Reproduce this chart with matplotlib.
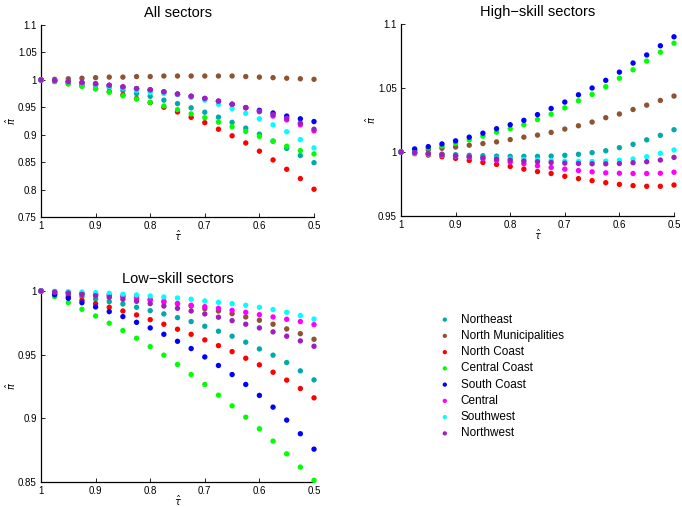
import numpy as np
import matplotlib
matplotlib.use("Agg")
import matplotlib.pyplot as plt

plt.rcParams["font.family"] = ["Liberation Sans", "DejaVu Sans"]
plt.rcParams["mathtext.fontset"] = "dejavusans"

# trade cost index, 1 -> 0.5
tau = np.linspace(1.0, 0.5, 21)

regions = ["Northeast", "North Municipalities", "North Coast", "Central Coast",
           "South Coast", "Central", "Southwest", "Northwest"]
colors = ["#00AAAA", "#8C5433", "#FF0000", "#00FF00",
          "#0000FF", "#FF00FF", "#00FFFF", "#A01EBE"]

# All sectors
all_ne = [1, 0.998, 0.996, 0.993, 0.990, 0.9866, 0.9805, 0.975, 0.970, 0.963, 0.9567,
          0.949, 0.941, 0.932, 0.9226, 0.912, 0.901, 0.8884, 0.875, 0.862, 0.849]
all_nm = [1, 1.001, 1.002, 1.003, 1.004, 1.005, 1.005, 1.006, 1.006, 1.007, 1.007,
          1.007, 1.007, 1.007, 1.007, 1.006, 1.005, 1.004, 1.003, 1.002, 1.001]
all_nc = [1, 0.997, 0.993, 0.989, 0.984, 0.9787, 0.9726, 0.966, 0.9585, 0.950, 0.9415,
          0.9317, 0.922, 0.910, 0.898, 0.885, 0.870, 0.854, 0.837, 0.820, 0.8006]
all_cc = [1, 0.997, 0.9927, 0.988, 0.9835, 0.9774, 0.971, 0.965, 0.959, 0.9524, 0.9457,
          0.938, 0.931, 0.923, 0.9146, 0.906, 0.897, 0.888, 0.879, 0.871, 0.865]
all_sc = [1, 0.999, 0.997, 0.995, 0.9927, 0.990, 0.987, 0.984, 0.9817, 0.978, 0.974,
          0.970, 0.966, 0.961, 0.9555, 0.9494, 0.9445, 0.9396, 0.934, 0.929, 0.924]
all_ce = [1, 0.999, 0.997, 0.995, 0.9927, 0.990, 0.987, 0.984, 0.9817, 0.978, 0.974,
          0.970, 0.966, 0.961, 0.9555, 0.949, 0.942, 0.934, 0.927, 0.918, 0.907]
all_sw = [1, 0.999, 0.997, 0.994, 0.991, 0.988, 0.985, 0.981, 0.977, 0.975, 0.973,
          0.968, 0.963, 0.9555, 0.9476, 0.939, 0.929, 0.918, 0.9055, 0.891, 0.876]
all_nw = [1, 0.999, 0.997, 0.995, 0.9927, 0.990, 0.987, 0.984, 0.9817, 0.978, 0.974,
          0.970, 0.966, 0.961, 0.9555, 0.9494, 0.943, 0.9366, 0.930, 0.921, 0.910]

# High-skill sectors
hi_ne = [1, 0.9995, 0.9989, 0.9984, 0.9979, 0.9974, 0.9971, 0.9968, 0.9966, 0.9966, 0.9966,
         0.9968, 0.9974, 0.9982, 0.9995, 1.001, 1.0034, 1.006, 1.0095, 1.013, 1.0174]
hi_nm = [1, 1.0008, 1.0018, 1.0029, 1.0039, 1.0053, 1.0066, 1.0079, 1.0097, 1.0116, 1.0132,
         1.0153, 1.0179, 1.0205, 1.0234, 1.0268, 1.0297, 1.0332, 1.0366, 1.0403, 1.0437]
hi_nc = [1, 0.9987, 0.9976, 0.9963, 0.995, 0.9934, 0.9918, 0.9903, 0.9887, 0.9866, 0.9847,
         0.9832, 0.981, 0.9792, 0.9776, 0.976, 0.9747, 0.9737, 0.9732, 0.9732, 0.9742]
hi_cc = [1, 1.0016, 1.0032, 1.0047, 1.0068, 1.0095, 1.0124, 1.0155, 1.0182, 1.0213, 1.0253,
         1.0295, 1.0345, 1.040, 1.045, 1.051, 1.0576, 1.0642, 1.071, 1.078, 1.085]
hi_sc = [1, 1.0024, 1.0042, 1.0063, 1.0087, 1.0116, 1.0147, 1.0182, 1.0213, 1.0247, 1.0292,
         1.034, 1.039, 1.0447, 1.050, 1.056, 1.0624, 1.0695, 1.0758, 1.083, 1.090]
hi_ce = [1, 0.9992, 0.9987, 0.9979, 0.9968, 0.9958, 0.9947, 0.9934, 0.9921, 0.9908, 0.9892,
         0.9879, 0.9866, 0.9855, 0.9845, 0.9837, 0.9834, 0.9832, 0.9832, 0.9834, 0.9842]
hi_sw = [1, 0.9992, 0.9984, 0.9976, 0.997, 0.9963, 0.9957, 0.9951, 0.9946, 0.9941, 0.9937,
         0.9933, 0.9928, 0.9926, 0.9926, 0.9929, 0.9935, 0.9945, 0.9963, 0.999, 1.0016]
hi_nw = [1, 0.9995, 0.9987, 0.9979, 0.9971, 0.9963, 0.9955, 0.9945, 0.9937, 0.9929, 0.9924,
         0.9918, 0.9913, 0.9910, 0.9908, 0.9908, 0.9910, 0.9916, 0.9924, 0.9937, 0.9958]

# Low-skill sectors
lo_ne = [1, 0.9987, 0.9971, 0.9956, 0.9937, 0.9916, 0.9898, 0.9872, 0.9846, 0.982, 0.9791,
         0.976, 0.9723, 0.9684, 0.9645, 0.9598, 0.9545, 0.9496, 0.9438, 0.9373, 0.9302]
lo_nm = [1, 0.9995, 0.9987, 0.9982, 0.9979, 0.9971, 0.9961, 0.995, 0.9935, 0.9919, 0.9901,
         0.9882, 0.9861, 0.9843, 0.9822, 0.9796, 0.977, 0.9739, 0.9702, 0.9665, 0.9621]
lo_nc = [1, 0.9976, 0.9953, 0.9927, 0.9901, 0.9872, 0.9843, 0.9812, 0.9775, 0.9739, 0.970,
         0.966, 0.9616, 0.9571, 0.9524, 0.9472, 0.942, 0.9362, 0.930, 0.9234, 0.9161]
lo_cc = [1, 0.9956, 0.9909, 0.9856, 0.9804, 0.9747, 0.9689, 0.9629, 0.9563, 0.9496, 0.9423,
         0.9344, 0.9266, 0.9182, 0.9098, 0.9009, 0.8918, 0.8821, 0.8721, 0.8617, 0.8513]
lo_sc = [1, 0.9971, 0.9943, 0.9908, 0.9875, 0.9838, 0.9799, 0.9754, 0.971, 0.966, 0.9605,
         0.9548, 0.9482, 0.9415, 0.9344, 0.9266, 0.918, 0.9088, 0.8986, 0.8879, 0.8758]
lo_ce = [1, 0.9992, 0.9987, 0.9979, 0.9971, 0.9963, 0.9953, 0.994, 0.9927, 0.9914, 0.9901,
         0.9888, 0.9877, 0.9864, 0.9848, 0.9833, 0.9814, 0.9796, 0.9778, 0.976, 0.9736]
lo_sw = [1, 0.9997, 0.9995, 0.9992, 0.9987, 0.9982, 0.9974, 0.9969, 0.9961, 0.9953, 0.9945,
         0.9935, 0.9922, 0.9911, 0.9901, 0.9888, 0.9872, 0.9854, 0.9833, 0.9807, 0.978]
lo_nw = [1, 0.9992, 0.9984, 0.9974, 0.9963, 0.995, 0.9935, 0.9919, 0.9901, 0.9882, 0.9864,
         0.9843, 0.982, 0.9794, 0.9767, 0.9739, 0.971, 0.9679, 0.9645, 0.9608, 0.9566]

panels = [
    ("All sectors", [all_ne, all_nm, all_nc, all_cc, all_sc, all_ce, all_sw, all_nw],
     [0.75, 0.8, 0.85, 0.9, 0.95, 1, 1.05, 1.1], (0.75, 1.1)),
    ("High\u2212skill sectors", [hi_ne, hi_nm, hi_nc, hi_cc, hi_sc, hi_ce, hi_sw, hi_nw],
     [0.95, 1, 1.05, 1.1], (0.95, 1.1)),
    ("Low\u2212skill sectors", [lo_ne, lo_nm, lo_nc, lo_cc, lo_sc, lo_ce, lo_sw, lo_nw],
     [0.85, 0.9, 0.95, 1], (0.85, 1.0)),
]
xticks = [1, 0.9, 0.8, 0.7, 0.6, 0.5]


def fmt(v):
    return ("%g" % v)


W, H = 682, 507
boxes = [(41, 25, 314, 217), (401, 24, 674, 216), (41, 291, 314, 482)]

fig = plt.figure(figsize=(W / 100, H / 100), dpi=100)
handles = None
for (title, series, yt, ylim), (x0, y0, x1, y1) in zip(panels, boxes):
    ax = fig.add_axes([x0 / W, 1 - y1 / H, (x1 - x0) / W, (y1 - y0) / H])
    hs = []
    for ys, c, name in zip(series, colors, regions):
        hs.append(ax.scatter(tau, ys, s=15, color=c, edgecolors="none", label=name,
                             clip_on=False, zorder=3))
    handles = hs
    ax.set_xlim(1, 0.5)
    ax.set_ylim(*ylim)
    ax.set_xticks(xticks)
    ax.set_xticklabels([fmt(v) for v in xticks])
    ax.set_yticks(yt)
    ax.set_yticklabels([fmt(v) for v in yt])
    ax.spines[["top", "right"]].set_visible(False)
    ax.tick_params(direction="in", length=3, width=0.6, labelsize=7, pad=3)
    for s in ("left", "bottom"):
        ax.spines[s].set_linewidth(0.9)
    ax.set_title(title, fontsize=10.5, pad=6)
    ax.set_xlabel(r"$\hat{\tau}$", fontsize=7)
    ax.set_ylabel(r"$\hat{\pi}$", fontsize=7)
    ax.xaxis.set_label_coords(0.5, -0.06)
    ax.yaxis.set_label_coords(-0.085, 0.5)

fig.legend(handles=handles, labels=regions, loc="upper left",
           bbox_to_anchor=(433 / W, 1 - 309 / H), frameon=False, fontsize=8.5,
           handletextpad=0.75, labelspacing=0.36, handlelength=1.2,
           markerscale=0.8, borderaxespad=0)

fig.savefig("out.png", dpi=100)
